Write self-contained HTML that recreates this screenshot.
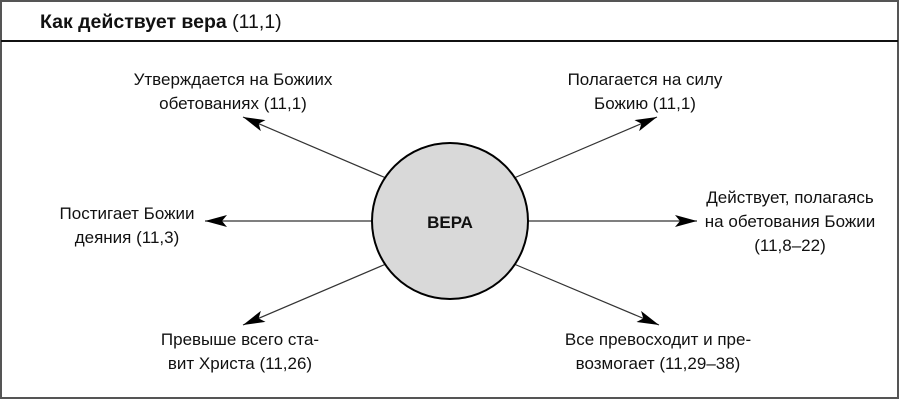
<!DOCTYPE html>
<html><head><meta charset="utf-8"><style>
body{margin:0;background:#fff}
svg text{font-family:"Liberation Sans","DejaVu Sans",sans-serif;fill:#111}
</style></head><body>
<svg width="900" height="401" viewBox="0 0 900 401" xmlns="http://www.w3.org/2000/svg">
<defs><marker id="a" markerWidth="22" markerHeight="12" refX="22" refY="6" orient="auto" markerUnits="userSpaceOnUse"><path d="M0,0 L22,6 L0,12 L5,6 Z" fill="#000"/></marker></defs>
<rect x="1" y="1" width="897" height="397" fill="#fff" stroke="#555" stroke-width="2"/>
<line x1="1" y1="41" x2="898" y2="41" stroke="#111" stroke-width="2"/>
<text x="40" y="28" font-size="19.5"><tspan font-weight="bold">Как действует вера</tspan> (11,1)</text>
<g stroke="#333" stroke-width="1.2" marker-end="url(#a)">
<line x1="386" y1="178" x2="243" y2="117"/>
<line x1="514" y1="178" x2="657" y2="117"/>
<line x1="372" y1="221" x2="205" y2="221"/>
<line x1="528" y1="221" x2="697" y2="221"/>
<line x1="386" y1="264" x2="243" y2="325"/>
<line x1="514" y1="264" x2="659" y2="325"/>
</g>
<circle cx="450" cy="221" r="78" fill="#d9d9d9" stroke="#000" stroke-width="2"/>
<text x="450" y="228" font-size="17" font-weight="bold" text-anchor="middle">ВЕРА</text>
<g font-size="17" text-anchor="middle">
<text x="233" y="85">Утверждается на Божиих</text>
<text x="233" y="109">обетованиях (11,1)</text>
<text x="645" y="85">Полагается на силу</text>
<text x="645" y="109">Божию (11,1)</text>
<text x="127" y="219">Постигает Божии</text>
<text x="127" y="243">деяния (11,3)</text>
<text x="790" y="203">Действует, полагаясь</text>
<text x="790" y="227">на обетования Божии</text>
<text x="790" y="251">(11,8–22)</text>
<text x="240" y="345">Превыше всего ста-</text>
<text x="240" y="369">вит Христа (11,26)</text>
<text x="658" y="345">Все превосходит и пре-</text>
<text x="658" y="369">возмогает (11,29–38)</text>
</g>
</svg>
</body></html>
